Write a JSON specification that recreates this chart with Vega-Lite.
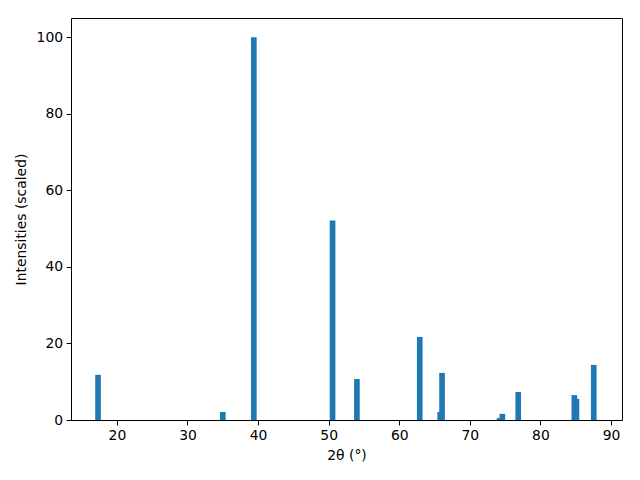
{
  "$schema": "https://vega.github.io/schema/vega-lite/v6.json",
  "width": 551,
  "height": 402,
  "autosize": {"type": "none"},
  "padding": {"left": 71, "top": 18, "right": 18, "bottom": 60},
  "background": "white",
  "config": {
    "view": {"stroke": "black", "strokeWidth": 1},
    "font": "DejaVu Sans",
    "axis": {
      "grid": false,
      "domain": false,
      "tickColor": "black",
      "tickSize": 4.9,
      "tickWidth": 1,
      "labelPadding": 3.5,
      "labelFont": "DejaVu Sans",
      "labelFontSize": 13.9,
      "labelColor": "black",
      "titleFont": "DejaVu Sans",
      "titleFontSize": 13.9,
      "titleFontWeight": "normal",
      "titleColor": "black"
    }
  },
  "data": {
    "values": [
      {"two_theta": 17.33, "intensity": 11.8},
      {"two_theta": 35.0, "intensity": 2.1},
      {"two_theta": 39.4, "intensity": 100},
      {"two_theta": 50.55, "intensity": 52.1},
      {"two_theta": 54.0, "intensity": 10.7},
      {"two_theta": 62.9, "intensity": 21.7},
      {"two_theta": 65.8, "intensity": 2.1},
      {"two_theta": 66.06, "intensity": 12.3},
      {"two_theta": 74.2, "intensity": 0.5},
      {"two_theta": 74.6, "intensity": 1.6},
      {"two_theta": 76.85, "intensity": 7.3},
      {"two_theta": 84.8, "intensity": 6.5},
      {"two_theta": 85.1, "intensity": 5.5},
      {"two_theta": 87.55, "intensity": 14.4}
    ]
  },
  "mark": {"type": "bar", "size": 5.64, "color": "#1f77b4"},
  "encoding": {
    "x": {
      "field": "two_theta",
      "type": "quantitative",
      "scale": {"domain": [13.5, 91.55], "nice": false, "zero": false, "padding": 0},
      "axis": {"values": [20, 30, 40, 50, 60, 70, 80, 90], "title": "2θ (°)", "titlePadding": 6}
    },
    "y": {
      "field": "intensity",
      "type": "quantitative",
      "scale": {"domain": [0, 105], "nice": false},
      "axis": {"values": [0, 20, 40, 60, 80, 100], "title": "Intensities (scaled)", "titlePadding": 8}
    }
  }
}
